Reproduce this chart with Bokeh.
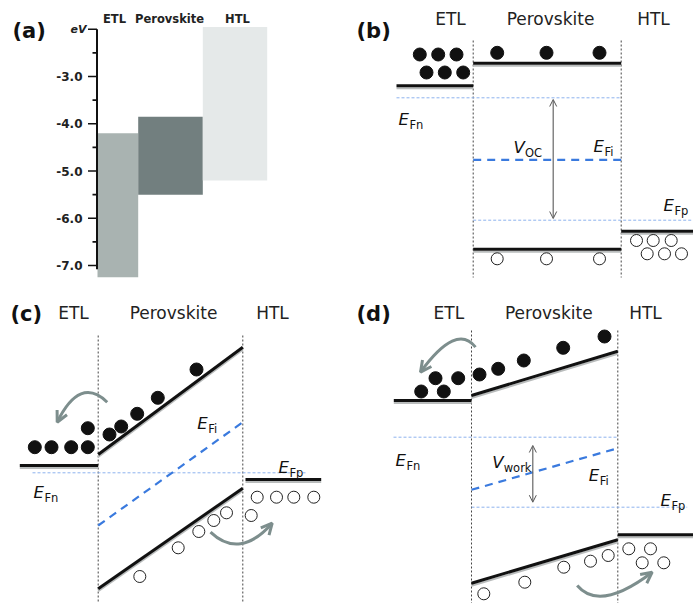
from bokeh.plotting import figure
from bokeh.models import Range1d, Arrow, OpenHead
from bokeh.core.properties import value
from bokeh.embed import file_html
from bokeh.resources import INLINE

# ---------------- panel (a): energy levels (eV) ----------------
layers = ["ETL", "Perovskite", "HTL"]
level_top = [-4.2, -3.85, -1.95]
level_bottom = [-7.25, -5.5, -5.2]
layer_colors = ["#a9b3b1", "#727f7f", "#e5e9e9"]
ev_ticks = [-2.0, -2.5, -3.0, -3.5, -4.0, -4.5, -5.0, -5.5, -6.0, -6.5, -7.0]
ev_labels = ["eV", "", "-3.0", "", "-4.0", "", "-5.0", "", "-6.0", "", "-7.0"]

# ---------------- schematic band diagrams (page units) ----------------
# (b) open circuit
b_cb = [(396, 472.7, 85.3, 85.3), (472.7, 620.7, 62.7, 62.7)]
b_vb = [(472.7, 620.7, 248.7, 248.7), (620.7, 693, 230.7, 230.7)]
b_interfaces = [472.7, 620.7]
b_efn = (396, 620.7, 97.3)
b_efp = (472.7, 693, 219.7)
b_efi = (472.7, 620.7, 159.3, 159.3)
b_electrons_x = [419.3, 437.7, 456, 426, 444.3, 462.7, 496.7, 546, 599]
b_electrons_y = [54, 54, 54, 72, 72, 72, 52.3, 52.3, 52.3]
b_holes_x = [496.7, 546, 599, 636, 652.7, 670.7, 646.7, 664, 681]
b_holes_y = [258.3, 258.3, 258.3, 240, 240, 240, 253.3, 253.3, 253.3]

# (c) short circuit
c_cb = [(19.3, 97.7, 465, 465), (97.7, 242.3, 454, 346.7)]
c_vb = [(97.7, 242.3, 588.3, 487.7), (245, 320.7, 479, 479)]
c_interfaces = [97.7, 242.3]
c_efn = (32, 306.7, 472.3)
c_efi = (97.7, 242.3, 525, 421.7)
c_electrons_x = [34.3, 51, 70.7, 87.3, 87.3, 109, 120.7, 136.7, 157.3, 196]
c_electrons_y = [446.7, 446.7, 446.7, 446.7, 427.7, 434, 426, 413.3, 397.3, 369]
c_holes_x = [139.3, 177.7, 198.3, 213.3, 226, 250.7, 256.7, 276, 293.3, 313.3]
c_holes_y = [576, 547.3, 531, 520, 512.3, 515, 496.7, 496.7, 496.7, 496.7]

# (d) working point
d_cb = [(393.3, 471, 400, 400), (471, 617.3, 395, 350.7)]
d_vb = [(471, 617.3, 582.7, 539.3), (617.3, 693, 534.3, 534.3)]
d_interfaces = [471, 617.3]
d_efn = (393, 617.3, 436.7)
d_efp = (471, 686.7, 506.7)
d_efi = (471, 617.3, 489.3, 447.7)
d_electrons_x = [420.7, 443.3, 435, 457.7, 479, 497.7, 523.3, 562.7, 604]
d_electrons_y = [391, 391, 377.7, 377.7, 374, 368.3, 360, 347.3, 336]
d_holes_x = [483.3, 524.3, 563.3, 590, 607.7, 628.3, 650, 641.7, 663.3]
d_holes_y = [593.3, 581.7, 566.7, 560.7, 555, 548.3, 548.3, 562.3, 562.3]

# curved transfer arrows: start, control, end
arcs = [
    ((106.7, 401.7), (79.5, 375.2), (56.7, 421.7)),
    ((210, 531.7), (239.2, 559.4), (271.7, 522.7)),
    ((475, 346.7), (455.9, 322.2), (420, 371.7)),
    ((576.7, 585), (599.2, 611.7), (651.7, 571.7)),
]
# double-headed voltage arrows: x, y_top, y_bottom
v_arrows = [(552.7, 99, 218), (532.3, 445, 501.7)]

FONT = "DejaVu Sans"
BLACK = "#111111"
SHADOW = "#b9bcbc"
DOT_BLUE = "#8db3ee"
DASH_BLUE = "#3a7ade"
ARC = "#7d8e8d"

p = figure(width=693, height=603, output_backend="svg", toolbar_location=None,
           x_range=Range1d(0, 693), y_range=Range1d(603, 0),
           x_axis_location=None, y_axis_location=None,
           min_border=0, min_border_left=0, min_border_right=0,
           min_border_top=0, min_border_bottom=0)
p.outline_line_color = None
p.grid.visible = False
p.extra_y_ranges = {"ev": Range1d(-14.153, -1.3915)}

# ---------- panel (a) ----------
bar_left = [97, 137.7, 202.3]
bar_right = [137.7, 202.3, 266.7]
p.quad(left=bar_left, right=bar_right, top=level_top, bottom=level_bottom,
       fill_color=layer_colors, line_color=None, y_range_name="ev")
axis_x = 96.5
p.segment(x0=[axis_x], x1=[axis_x], y0=[-2.0], y1=[-7.08], line_color=BLACK,
          line_width=2, y_range_name="ev")
tick_len = [9 if lab else 4.5 for lab in ev_labels]
p.segment(x0=[axis_x - t for t in tick_len], x1=[axis_x] * len(ev_ticks),
          y0=ev_ticks, y1=ev_ticks, line_color=BLACK, line_width=1.6, y_range_name="ev")
num_ticks = [(v, lab) for v, lab in zip(ev_ticks, ev_labels) if lab and lab != "eV"]
p.text(x=[82] * len(num_ticks), y=[v for v, _ in num_ticks], text=[lab for _, lab in num_ticks],
       text_font=value(FONT), text_font_style="bold", text_font_size="12px",
       text_align="right", text_baseline="middle", text_color="#222222", y_range_name="ev")
p.text(x=[86], y=[-2.0], text=["eV"], text_font=value(FONT), text_font_style="bold italic",
       text_font_size="11px", text_align="right", text_baseline="middle",
       text_color="#222222", y_range_name="ev")
p.text(x=[114, 169, 237], y=[18, 18, 18], text=layers, text_font=value(FONT),
       text_font_style="bold", text_font_size="11.5px", text_align="center",
       text_baseline="middle", text_color="#222222")

# ---------- panel letters and headers ----------
p.text(x=[12, 356, 10, 356], y=[30, 30, 313, 313], text=["(a)", "(b)", "(c)", "(d)"],
       text_font=value(FONT), text_font_style="bold", text_font_size="21px",
       text_align="left", text_baseline="middle", text_color="#111111")
hdr_x = [450, 550, 653, 73, 173, 272, 448.3, 548.3, 645]
hdr_y = [18] * 3 + [312] * 6
p.text(x=hdr_x, y=hdr_y, text=layers * 3, text_font=value(FONT), text_font_size="17px",
       text_align="center", text_baseline="middle", text_color="#222222")


def band(segs):
    x0 = [s[0] for s in segs]
    x1 = [s[1] for s in segs]
    y0 = [s[2] for s in segs]
    y1 = [s[3] for s in segs]
    p.segment(x0=x0, x1=x1, y0=[y + 2.5 for y in y0], y1=[y + 2.5 for y in y1],
              line_color=SHADOW, line_width=2)
    p.segment(x0=x0, x1=x1, y0=y0, y1=y1, line_color=BLACK, line_width=3)


def interfaces(xs, top, bottom):
    p.segment(x0=xs, x1=xs, y0=[top] * len(xs), y1=[bottom] * len(xs),
              line_color="#444444", line_width=1, line_dash="2 2")


def fermi(lines):
    p.segment(x0=[l[0] for l in lines], x1=[l[1] for l in lines],
              y0=[l[2] for l in lines], y1=[l[2] for l in lines],
              line_color=DOT_BLUE, line_width=1, line_dash="3 2")


def quasi(line):
    p.segment(x0=[line[0]], x1=[line[1]], y0=[line[2]], y1=[line[3]],
              line_color=DASH_BLUE, line_width=2.2, line_dash="8 6")


def carriers(ex, ey, hx, hy):
    p.scatter(x=ex, y=ey, size=13, fill_color=BLACK, line_color=BLACK)
    p.scatter(x=hx, y=hy, size=12, fill_color="white", line_color="#222222", line_width=1)


interfaces(b_interfaces, 40, 277)
interfaces(c_interfaces, 335, 603)
interfaces(d_interfaces, 330, 603)
fermi([b_efn, b_efp, c_efn, d_efn, d_efp])
quasi(b_efi)
quasi(c_efi)
quasi(d_efi)
band(b_cb + b_vb)
band(c_cb + c_vb)
band(d_cb + d_vb)
carriers(b_electrons_x, b_electrons_y, b_holes_x, b_holes_y)
carriers(c_electrons_x, c_electrons_y, c_holes_x, c_holes_y)
carriers(d_electrons_x, d_electrons_y, d_holes_x, d_holes_y)

# curved arrows with open heads
for (s, c, e) in arcs:
    p.quadratic(x0=[s[0]], y0=[s[1]], cx=[c[0]], cy=[c[1]], x1=[e[0]], y1=[e[1]],
                line_color=ARC, line_width=3)
    dx, dy = e[0] - c[0], e[1] - c[1]
    n = (dx * dx + dy * dy) ** 0.5
    p.add_layout(Arrow(end=OpenHead(size=11, line_color=ARC, line_width=3),
                       x_start=e[0] - 3 * dx / n, y_start=e[1] - 3 * dy / n,
                       x_end=e[0], y_end=e[1], line_alpha=0))

for (x, y0, y1) in v_arrows:
    p.add_layout(Arrow(start=OpenHead(size=7, line_color="#555555", line_width=1),
                       end=OpenHead(size=7, line_color="#555555", line_width=1),
                       x_start=x, y_start=y0, x_end=x, y_end=y1,
                       line_color="#666666", line_width=1.2))

# italic symbols with upright subscripts
sym_x = [398, 513, 593, 663, 33, 196.7, 278, 395, 491.7, 588.3, 660]
sym_y = [119, 147, 146, 205, 492, 423, 467, 460, 462, 475, 500]
sym_main = ["E", "V", "E", "E", "E", "E", "E", "E", "V", "E", "E"]
sym_sub = ["Fn", "OC", "Fi", "Fp", "Fn", "Fi", "Fp", "Fn", "work", "Fi", "Fp"]
sub_dx = [11 if m == "E" else 11.5 for m in sym_main]
p.text(x=sym_x, y=sym_y, text=sym_main, text_font=value(FONT), text_font_style="italic",
       text_font_size="16.5px", text_align="left", text_baseline="alphabetic",
       text_color="#111111")
p.text(x=[x + d for x, d in zip(sym_x, sub_dx)], y=[y + 5 for y in sym_y], text=sym_sub,
       text_font=value(FONT), text_font_size="11.5px", text_align="left",
       text_baseline="alphabetic", text_color="#111111")

open("out.html", "w").write(file_html(p, INLINE))
